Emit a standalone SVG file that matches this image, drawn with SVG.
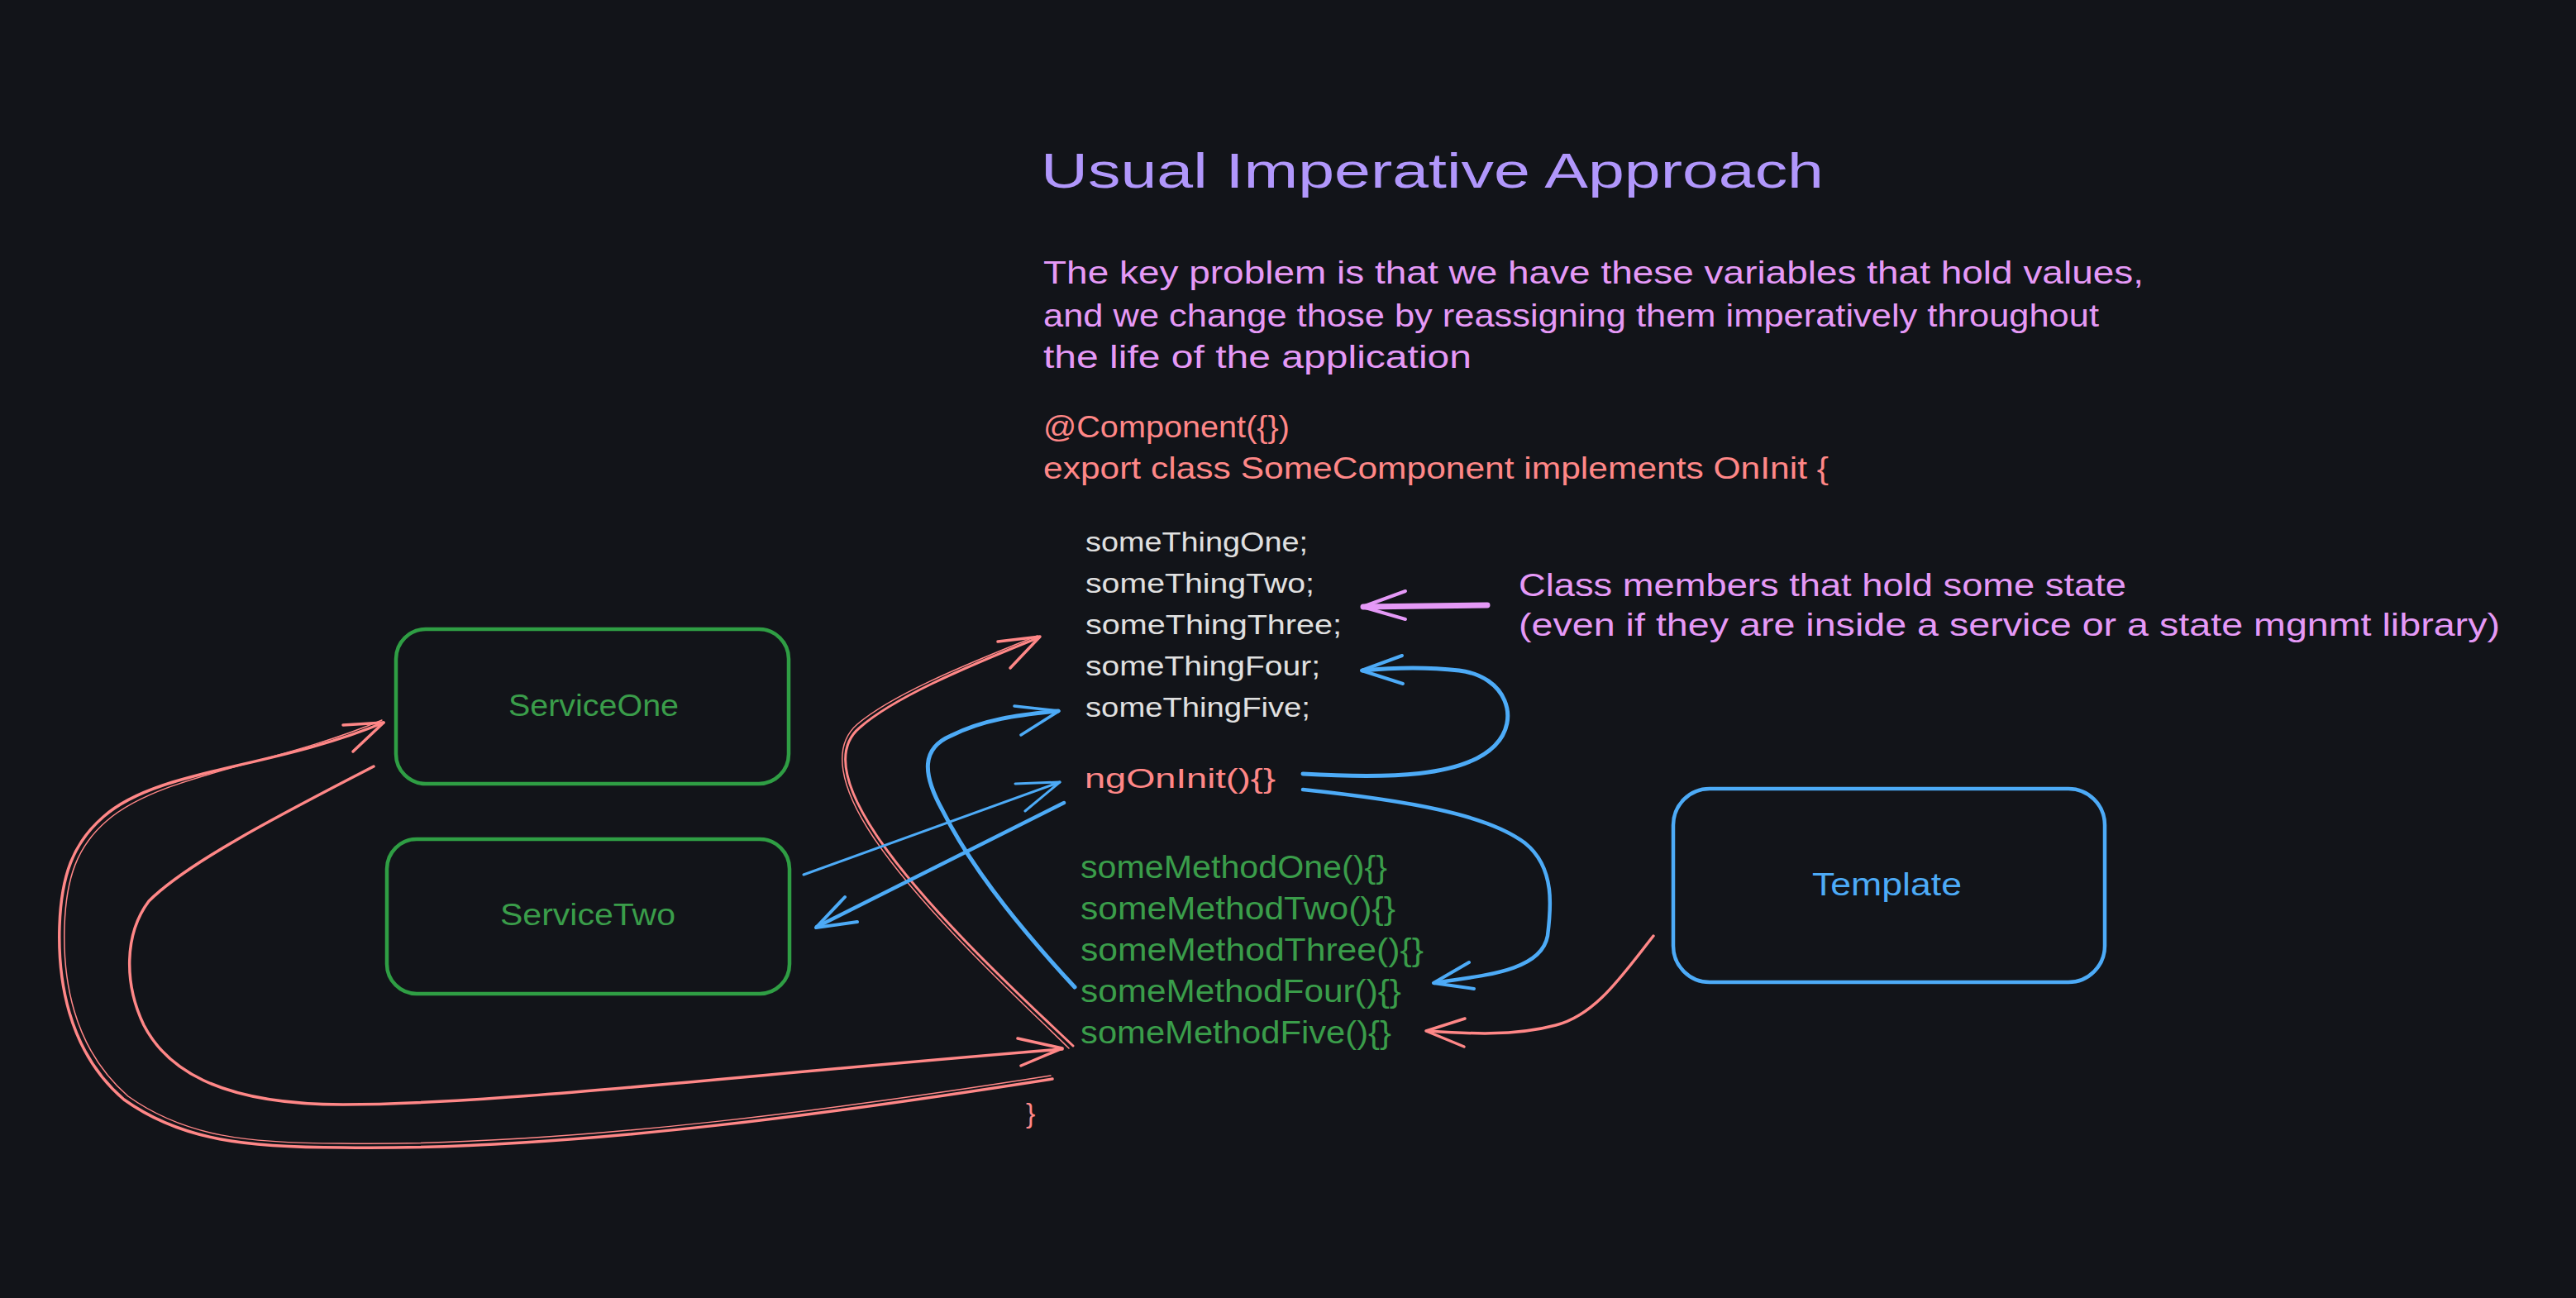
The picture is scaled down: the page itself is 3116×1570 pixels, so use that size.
<svg xmlns="http://www.w3.org/2000/svg" width="3116" height="1570" viewBox="0 0 3116 1570">
<style>
.t{font-family:"Liberation Sans","DejaVu Sans",sans-serif;}
.title{font-size:60px;fill:#b197fc;}
.para{font-size:38px;fill:#e599f7;}
.code{font-size:36px;fill:#ff8787;}
.mem{font-size:34px;fill:#e0e0e0;}
.meth{font-size:38px;fill:#3a9d4a;}
.svc{font-size:36px;fill:#3a9d4a;}
.tpl{font-size:38px;fill:#4dabf7;}
.box{fill:none;stroke-width:4.5;stroke-linejoin:round;}
.g{stroke:#2f9e44;}
.b{stroke:#4dabf7;}
.line{fill:none;stroke-linecap:round;stroke-linejoin:round;}
.red{stroke:#ff8787;}
.blue{stroke:#4dabf7;}
.pink{stroke:#e599f7;}
</style>
<rect x="0" y="0" width="3116" height="1570" fill="#121419"/>

<g id="title">
<text class="t title" x="1259" y="227" textLength="947" lengthAdjust="spacingAndGlyphs">Usual Imperative Approach</text>
</g>
<g id="description">
<text class="t para" x="1262" y="343" textLength="1331" lengthAdjust="spacingAndGlyphs">The key problem is that we have these variables that hold values,</text>
<text class="t para" x="1262" y="395" textLength="1277" lengthAdjust="spacingAndGlyphs">and we change those by reassigning them imperatively throughout</text>
<text class="t para" x="1262" y="445" textLength="518" lengthAdjust="spacingAndGlyphs">the life of the application</text>
</g>
<g id="component-header">
<text class="t code" x="1262" y="529" textLength="298" lengthAdjust="spacingAndGlyphs">@Component({})</text>
<text class="t code" x="1262" y="579" textLength="950" lengthAdjust="spacingAndGlyphs">export class SomeComponent implements OnInit {</text>
</g>
<g id="members">
<text class="t mem" x="1313" y="667" textLength="269" lengthAdjust="spacingAndGlyphs">someThingOne;</text>
<text class="t mem" x="1313" y="717" textLength="277" lengthAdjust="spacingAndGlyphs">someThingTwo;</text>
<text class="t mem" x="1313" y="767" textLength="310" lengthAdjust="spacingAndGlyphs">someThingThree;</text>
<text class="t mem" x="1313" y="817" textLength="284" lengthAdjust="spacingAndGlyphs">someThingFour;</text>
<text class="t mem" x="1313" y="867" textLength="272" lengthAdjust="spacingAndGlyphs">someThingFive;</text>
</g>
<g id="ngOnInit">
<text class="t code" style="font-size:34px" x="1312" y="953" textLength="231" lengthAdjust="spacingAndGlyphs">ngOnInit(){}</text>
</g>
<g id="methods">
<text class="t meth" x="1307" y="1062" textLength="371" lengthAdjust="spacingAndGlyphs">someMethodOne(){}</text>
<text class="t meth" x="1307" y="1112" textLength="381" lengthAdjust="spacingAndGlyphs">someMethodTwo(){}</text>
<text class="t meth" x="1307" y="1162" textLength="415" lengthAdjust="spacingAndGlyphs">someMethodThree(){}</text>
<text class="t meth" x="1307" y="1212" textLength="388" lengthAdjust="spacingAndGlyphs">someMethodFour(){}</text>
<text class="t meth" x="1307" y="1262" textLength="376" lengthAdjust="spacingAndGlyphs">someMethodFive(){}</text>
</g>
<g id="closing-brace">
<text class="t code" style="font-size:34px" x="1241" y="1358">}</text>
</g>
<g id="class-members-note">
<text class="t para" x="1837" y="721" textLength="735" lengthAdjust="spacingAndGlyphs">Class members that hold some state</text>
<text class="t para" x="1837" y="769" textLength="1187" lengthAdjust="spacingAndGlyphs">(even if they are inside a service or a state mgnmt library)</text>
</g>
<g id="service-one">
<rect class="box g" x="479" y="761" width="475" height="187" rx="36"/>
<text class="t svc" x="615" y="866" textLength="206" lengthAdjust="spacingAndGlyphs">ServiceOne</text>
</g>
<g id="service-two">
<rect class="box g" x="468" y="1015" width="487" height="187" rx="36"/>
<text class="t svc" x="605" y="1119" textLength="212" lengthAdjust="spacingAndGlyphs">ServiceTwo</text>
</g>
<g id="template">
<rect class="box b" x="2024" y="954" width="522" height="234" rx="44"/>
<text class="t tpl" x="2192" y="1083" textLength="181" lengthAdjust="spacingAndGlyphs">Template</text>
</g>

<g id="connectors">
<!-- note -> members (pink) -->
<path class="line pink" stroke-width="7" d="M1799,732 L1649,734"/>
<path class="line pink" stroke-width="4" d="M1700,715 L1648,734 L1700,749"/>

<!-- ngOnInit -> someThingFour (blue) -->
<path class="line blue" stroke-width="5" d="M1576,936 C1680,942 1770,940 1808,902 C1840,870 1822,818 1765,811 C1720,806 1680,808 1648,811"/>
<path class="line blue" stroke-width="4" d="M1696,793 L1647,811 L1697,827"/>

<!-- ngOnInit -> someMethodFour (blue) -->
<path class="line blue" stroke-width="4.5" d="M1576,955 C1700,968 1800,985 1845,1020 C1882,1050 1876,1100 1872,1132 C1864,1176 1790,1180 1735,1189"/>
<path class="line blue" stroke-width="4" d="M1777,1164 L1734,1189 L1783,1196"/>

<!-- Template -> someMethodFive (red) -->
<path class="line red" stroke-width="3.5" d="M2000,1132 C1962,1180 1930,1228 1882,1240 C1830,1254 1772,1250 1726,1247"/>
<path class="line red" stroke-width="3.5" d="M1772,1232 L1725,1247 L1771,1266"/>

<!-- someMethodFive -> someThingThree (red) -->
<path class="line red" stroke-width="3" d="M1298,1265 C1240,1210 1120,1100 1060,1010 C1020,950 1010,905 1040,880 C1080,845 1160,810 1257,771"/>
<path class="line red" stroke-width="1.5" d="M1293,1268 C1236,1212 1116,1102 1056,1012 C1016,952 1006,903 1037,876 C1077,842 1157,808 1255,769"/>
<path class="line red" stroke-width="3.5" d="M1207,776 L1258,770 L1222,808"/>

<!-- someMethodFour -> someThingFive (blue) -->
<path class="line blue" stroke-width="5" d="M1300,1194 C1250,1140 1180,1060 1140,980 C1115,935 1115,905 1150,890 C1190,870 1230,865 1280,860"/>
<path class="line blue" stroke-width="3.5" d="M1227,854 L1281,860 L1235,889"/>

<!-- ServiceTwo -> ngOnInit (blue, thin) -->
<path class="line blue" stroke-width="3" d="M972,1058 L1282,946"/>
<path class="line blue" stroke-width="3" d="M1228,948 L1282,946 L1240,981"/>

<!-- ngOnInit -> ServiceTwo (blue) -->
<path class="line blue" stroke-width="4.5" d="M1287,971 L988,1121"/>
<path class="line blue" stroke-width="4" d="M1022,1085 L987,1122 L1037,1115"/>

<!-- someMethodFive -> ServiceOne (red, outer loop) -->
<path class="line red" stroke-width="3.5" d="M1273,1305 C1050,1340 700,1392 415,1388 C300,1388 220,1380 150,1330 C80,1270 70,1180 72,1120 C74,1060 88,1020 125,988 C190,930 330,930 464,874"/>
<path class="line red" stroke-width="1.5" d="M1271,1301 C1048,1336 698,1387 413,1383 C300,1383 224,1375 155,1326 C86,1266 76,1180 78,1120 C80,1062 93,1024 129,993 C194,936 332,926 462,871"/>
<path class="line red" stroke-width="3.5" d="M415,877 L464,874 L427,909"/>

<!-- ServiceOne -> someMethodFive (red, inner loop) -->
<path class="line red" stroke-width="3.5" d="M452,927 C360,975 230,1040 180,1090 C150,1130 150,1190 174,1240 C200,1290 260,1336 415,1336 C600,1336 900,1300 1285,1269"/>
<path class="line red" stroke-width="3.5" d="M1231,1256 L1285,1268 L1235,1289"/>
</g>
</svg>
